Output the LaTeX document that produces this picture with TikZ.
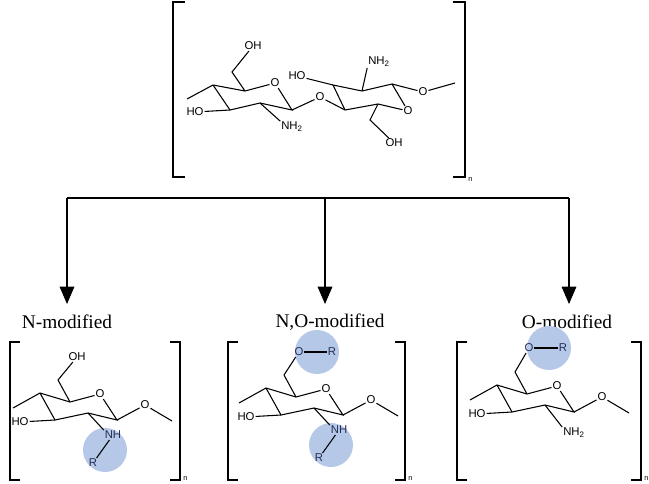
\documentclass[tikz,border=0pt]{standalone}
\usepackage{fontspec}
\setmainfont{Liberation Serif}
\newfontfamily\chemf{Liberation Sans}
\usetikzlibrary{arrows.meta}
\definecolor{hl}{RGB}{182,200,232}
\definecolor{hltext}{RGB}{35,45,85}
\tikzset{
 bond/.style={line width=0.8pt},
 atom/.style={font=\chemf\fontsize{8.5}{9}\selectfont,inner sep=0.6pt},
 hatom/.style={atom,text=hltext},
 brk/.style={line width=0.8pt},
 subn/.style={font=\chemf\fontsize{5.5}{6}\selectfont,inner sep=0pt},
 title/.style={font=\fontsize{14.5}{16}\selectfont,inner sep=0pt},
 hlc/.style={fill=hl,draw=none},
 arr/.style={line width=0.8pt,-{Triangle[width=11pt,length=13pt]}},
}
\newcommand\ringunit[1]{%
 \coordinate (#1T) at (13,408); \coordinate (#1C4) at (40,393);
 \coordinate (#1C5) at (70,402); \node[atom] (#1O5) at (100,394) {O};
 \coordinate (#1C1) at (117,420); \coordinate (#1C2) at (88,413);
 \coordinate (#1C3) at (55,420); \node[atom] (#1HO) at (20,422) {HO};
 \coordinate (#1C6) at (58,380); \node[atom] (#1O1) at (145,405) {O};
 \coordinate (#1T2) at (172,421);
 \draw[bond] (#1T)--(#1C4)--(#1C5)--(#1O5)--(#1C1)--(#1C2)--(#1C3)--(#1C4);
 \draw[bond] (#1HO)--(#1C3);
 \draw[bond] (#1C5)--(#1C6);
 \draw[bond] (#1C1)--(#1O1)--(#1T2);
}
\newcommand\bracketsU[3]{% prefix, left, right
 \draw[brk] ({#2+10},342)--(#2,342)--(#2,480)--({#2+10},480);
 \draw[brk] ({#3-10},342)--(#3,342)--(#3,480)--({#3-10},480);
 \node[subn,anchor=south west] (#1n) at ({#3+3},481) {n};
}
\begin{document}
\begin{tikzpicture}[x=0.75pt,y=-0.75pt]
\useasboundingbox (0,0) rectangle (649,483);
% ---- top dimer ----
\draw[brk] (185,2)--(173,2)--(173,177)--(185,177);
\draw[brk] (453,2)--(465,2)--(465,177)--(453,177);
\node[subn,anchor=west] (topn) at (468,180) {n};
\coordinate (t1) at (187,99); \coordinate (a4) at (213,85);
\coordinate (a5) at (245,91); \node[atom] (aO) at (275,83) {O};
\coordinate (a1) at (292,110); \coordinate (a2) at (260,103);
\coordinate (a3) at (230,110); \node[atom] (aHO) at (195,112) {HO};
\coordinate (a6) at (232,72); \node[atom] (aOH) at (253,46) {OH};
\node[atom] (aN) at (292,127) {NH\textsubscript{2}};
\node[atom] (gO) at (320,97) {O};
\coordinate (b4) at (345,110); \coordinate (b3) at (333,85);
\node[atom] (bHO) at (297,76) {HO};
\coordinate (b2) at (362,91); \node[atom] (bN) at (379,62) {NH\textsubscript{2}};
\coordinate (b1) at (392,84); \node[atom] (bO1) at (423,92) {O};
\coordinate (t2) at (455,83); \node[atom] (bO5) at (408,111) {O};
\coordinate (b5) at (378,104); \coordinate (b6) at (370,120);
\node[atom] (bOH) at (394,143) {OH};
\draw[bond] (t1)--(a4)--(a5)--(aO)--(a1)--(a2)--(a3)--(a4);
\draw[bond] (aHO)--(a3); \draw[bond] (a5)--(a6)--(aOH);
\draw[bond] (a2)--(aN.north west);
\draw[bond] (a1)--(gO)--(b4);
\draw[bond] (b4)--(b3)--(b2)--(b1)--(bO5)--(b5)--(b4);
\draw[bond] (bHO)--(b3); \draw[bond] (b2)--(bN.south west);
\draw[bond] (b1)--(bO1)--(t2);
\draw[bond] (b5)--(b6)--(bOH);
% ---- arrows ----
\coordinate (hl) at (67,198); \coordinate (hm) at (325,198); \coordinate (hr) at (569,198);
\draw[line width=0.8pt] (hl)--(hr);
\coordinate (el) at (67,304); \coordinate (em) at (325,304); \coordinate (er) at (569,304);
\draw[arr] (hl)--(el); \draw[arr] (hm)--(em); \draw[arr] (hr)--(er);
\node[title] (tl) at (67,322) {N-modified};
\node[title] (tm) at (330,322) {N,O-modified};
\node[title] (tr) at (567,322) {O-modified};
% ---- N-modified ----
\bracketsU{L}{10}{180}
\fill[hlc] (105,450) circle (22);
\ringunit{L}
\node[atom] (LOH) at (77,357) {OH};
\draw[bond] (LC6)--(LOH);
\node[hatom] (LN) at (113,435) {NH}; \node[hatom] (LR) at (93,463) {R};
\draw[bond] (LC2)--(LN.north west); \draw[bond] (LN)--(LR);
% ---- N,O-modified ----
\bracketsU{M}{228}{405}
\begin{scope}[shift={(226,-5)}]
\fill[hlc] (105,450) circle (22);
\fill[hlc] (91,357) circle (22);
\ringunit{M}
\node[hatom] (MO6) at (73,357) {O}; \node[hatom] (MR6) at (106,357) {R};
\draw[bond] (MC6)--(MO6); \draw[bond] (MO6)--(MR6);
\node[hatom] (MN) at (113,435) {NH}; \node[hatom] (MR) at (93,463) {R};
\draw[bond] (MC2)--(MN.north west); \draw[bond] (MN)--(MR);
\end{scope}
% ---- O-modified ----
\bracketsU{Q}{457}{641}
\begin{scope}[shift={(457,-8)}]
\fill[hlc] (92,356) circle (22);
\ringunit{Q}
\node[hatom] (QO6) at (72,356) {O}; \node[hatom] (QR6) at (106,356) {R};
\draw[bond] (QC6)--(QO6); \draw[bond] (QO6)--(QR6);
\node[atom] (QN) at (117,441) {NH\textsubscript{2}};
\draw[bond] (QC2)--(QN.north west);
\end{scope}
\end{tikzpicture}
\end{document}
